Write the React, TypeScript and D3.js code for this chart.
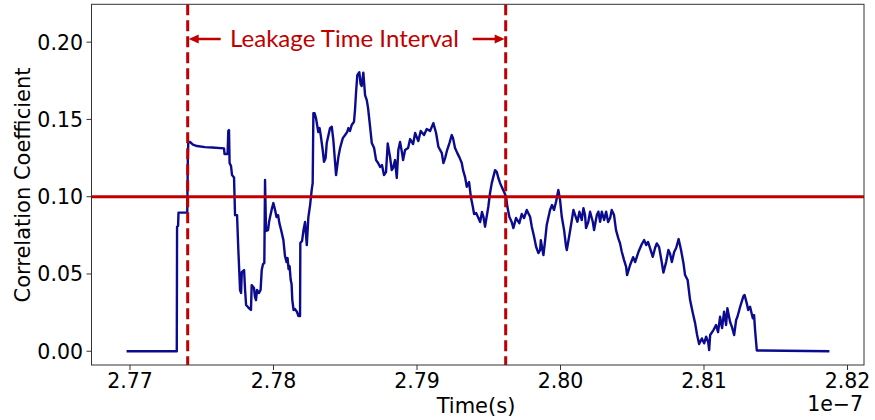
import React from "react";
import * as d3 from "d3";

// Time in units of 1e-7 s
const time = [
  2.76976, 2.77326, 2.77328, 2.77335, 2.77338, 2.77399, 2.77403, 2.77406, 2.77418, 2.77439,
  2.77467, 2.77523, 2.77572, 2.77655, 2.77659, 2.7768, 2.77685, 2.7769, 2.77694, 2.77704,
  2.77711, 2.77725, 2.77732, 2.77746, 2.77755, 2.77767, 2.77774, 2.77779, 2.77795, 2.77802,
  2.77809, 2.77822, 2.77836, 2.77843, 2.77848, 2.77864, 2.77871, 2.77878, 2.77885, 2.77899,
  2.7791, 2.77918, 2.77927, 2.77936, 2.77941, 2.77948, 2.77962, 2.77969, 2.77976, 2.7799,
  2.77999, 2.78011, 2.78021, 2.78032, 2.78041, 2.78053, 2.78069, 2.7808, 2.78091, 2.78098,
  2.78105, 2.78112, 2.7812, 2.78126, 2.78131, 2.7814, 2.7815, 2.78164, 2.78174, 2.78185,
  2.78187, 2.78199, 2.78209, 2.7822, 2.78232, 2.78243, 2.78255, 2.78266, 2.78273, 2.78278,
  2.78286, 2.78296, 2.78312, 2.78321, 2.78329, 2.78343, 2.78352, 2.78363, 2.78371, 2.78394,
  2.78406, 2.78417, 2.78436, 2.78452, 2.78464, 2.78483, 2.78499, 2.78513, 2.78522, 2.78533,
  2.78545, 2.78561, 2.78568, 2.78575, 2.78584, 2.78598, 2.78607, 2.78614, 2.78626, 2.78638,
  2.7865, 2.78659, 2.78673, 2.78685, 2.78701, 2.78715, 2.78729, 2.78743, 2.78756, 2.7877,
  2.78784, 2.78796, 2.78812, 2.78824, 2.78833, 2.78847, 2.78859, 2.7887, 2.78882, 2.78896,
  2.78903, 2.78917, 2.78938, 2.78952, 2.78973, 2.78987, 2.79009, 2.79026, 2.79049, 2.79068,
  2.79091, 2.79114, 2.79133, 2.79149, 2.79173, 2.79184, 2.79196, 2.7921, 2.79226, 2.79242,
  2.79251, 2.79265, 2.79281, 2.79295, 2.79312, 2.79321, 2.79335, 2.79347, 2.79363, 2.79375,
  2.79389, 2.79398, 2.79412, 2.79428, 2.7944, 2.79453, 2.79463, 2.79474, 2.79497, 2.79509,
  2.79521, 2.79544, 2.79556, 2.79567, 2.79579, 2.79591, 2.79607, 2.79621, 2.7963, 2.79644,
  2.7966, 2.79672, 2.7969, 2.79713, 2.7973, 2.79746, 2.79765, 2.79788, 2.798, 2.79816,
  2.7983, 2.79846, 2.79858, 2.79863, 2.79872, 2.79881, 2.79893, 2.79904, 2.79927, 2.79941,
  2.79955, 2.79969, 2.79985, 2.79997, 2.80009, 2.80025, 2.80039, 2.80044, 2.80062, 2.80079,
  2.8009, 2.80102, 2.80118, 2.80132, 2.80148, 2.8016, 2.80171, 2.80178, 2.80194, 2.80206,
  2.80225, 2.80234, 2.80253, 2.80264, 2.80276, 2.80288, 2.80304, 2.80318, 2.80332, 2.80346,
  2.80357, 2.80373, 2.80387, 2.80403, 2.80415, 2.80427, 2.80443, 2.80457, 2.80464, 2.80485,
  2.80506, 2.8052, 2.80543, 2.80567, 2.80583, 2.80597, 2.8061, 2.80624, 2.80643, 2.80659,
  2.80671, 2.80687, 2.80706, 2.80717, 2.80736, 2.80752, 2.80764, 2.80776, 2.80792, 2.80806,
  2.80823, 2.8084, 2.80857, 2.80868, 2.80886, 2.80903, 2.80922, 2.80938, 2.80952, 2.80966,
  2.80985, 2.81001, 2.81015, 2.81029, 2.81036, 2.81043, 2.81066, 2.81084, 2.81098, 2.81112,
  2.81126, 2.8114, 2.81154, 2.81163, 2.81182, 2.81194, 2.8121, 2.81224, 2.81233, 2.81252,
  2.81275, 2.81283, 2.81298, 2.81308, 2.81321, 2.8134, 2.81349, 2.81356, 2.81368, 2.81874,
];

const corr = [
  0, 0, 0.0806, 0.081, 0.0897, 0.0897, 0.1237, 0.1355, 0.1354, 0.1337,
  0.1328, 0.1321, 0.1318, 0.1313, 0.1276, 0.1276, 0.1425, 0.1431, 0.1218, 0.1198,
  0.114, 0.1124, 0.0881, 0.0881, 0.0655, 0.0396, 0.0377, 0.0512, 0.0525, 0.0396,
  0.0299, 0.0286, 0.0273, 0.0267, 0.0428, 0.0409, 0.0351, 0.0331, 0.0396, 0.0377,
  0.0396, 0.0525, 0.0564, 0.0571, 0.1108, 0.0778, 0.0784, 0.0836, 0.0868, 0.0927,
  0.0959, 0.0914, 0.0868, 0.0881, 0.0829, 0.0784, 0.0719, 0.0616, 0.0577, 0.0603,
  0.0532, 0.0551, 0.0461, 0.0435, 0.0331, 0.0267, 0.0273, 0.0254, 0.0228, 0.0228,
  0.07, 0.0713, 0.0784, 0.0836, 0.0687, 0.0868, 0.0946, 0.1043, 0.1088, 0.1541,
  0.1541, 0.1509, 0.1418, 0.1444, 0.1399, 0.1302, 0.1226, 0.125, 0.1347, 0.1444,
  0.1453, 0.1366, 0.114, 0.1256, 0.1315, 0.1379, 0.1399, 0.1418, 0.1444, 0.1425,
  0.1464, 0.1485, 0.1561, 0.1671, 0.1787, 0.1806, 0.1729, 0.1716, 0.1803, 0.1658,
  0.1625, 0.1574, 0.1453, 0.1347, 0.1315, 0.1237, 0.1218, 0.1192, 0.1205, 0.114,
  0.1159, 0.1344, 0.1258, 0.1172, 0.1185, 0.1237, 0.1121, 0.1302, 0.1354, 0.1282,
  0.1237, 0.1302, 0.1315, 0.1373, 0.1341, 0.1412, 0.136, 0.1425, 0.1399, 0.1438,
  0.1425, 0.1476, 0.1412, 0.1323, 0.1282, 0.1218, 0.125, 0.1302, 0.1347, 0.1399,
  0.1379, 0.1315, 0.1282, 0.1256, 0.1218, 0.1172, 0.1127, 0.1064, 0.1095, 0.1,
  0.0935, 0.0888, 0.0894, 0.0862, 0.0836, 0.0901, 0.087, 0.0806, 0.0935, 0.1024,
  0.1088, 0.1172, 0.1159, 0.1121, 0.1088, 0.1062, 0.103, 0.0998, 0.0933, 0.0868,
  0.0836, 0.0797, 0.0862, 0.0829, 0.0888, 0.0862, 0.0914, 0.087, 0.0806, 0.0741,
  0.0676, 0.0635, 0.0655, 0.0719, 0.0668, 0.0622, 0.0719, 0.0817, 0.0914, 0.0946,
  0.0914, 0.0967, 0.1043, 0.0978, 0.087, 0.0784, 0.0676, 0.0655, 0.0752, 0.0849,
  0.0914, 0.0881, 0.0838, 0.0903, 0.0849, 0.0925, 0.0881, 0.0797, 0.0838, 0.0903,
  0.0838, 0.0784, 0.0881, 0.0903, 0.0838, 0.0903, 0.0849, 0.0903, 0.0836, 0.0862,
  0.0914, 0.0881, 0.0784, 0.073, 0.0698, 0.0644, 0.059, 0.0547, 0.0493, 0.0558,
  0.0609, 0.0577, 0.0642, 0.0694, 0.0719, 0.0687, 0.0707, 0.0668, 0.0611, 0.0668,
  0.0698, 0.0674, 0.0574, 0.0509, 0.0577, 0.0655, 0.0629, 0.0577, 0.0642, 0.0668,
  0.0726, 0.0655, 0.0569, 0.0493, 0.0461, 0.0331, 0.0247, 0.0182, 0.0105, 0.0047,
  0.0083, 0.0051, 0.0094, 0.006, 0.0008, 0.0105, 0.0137, 0.017, 0.0124, 0.0223,
  0.015, 0.0256, 0.017, 0.0278, 0.0189, 0.0159, 0.0105, 0.0202, 0.0223, 0.0288,
  0.0357, 0.0364, 0.031, 0.0267, 0.0288, 0.0213, 0.0234, 0.0137, 0.0005, 0,
];

const xTicks = [2.77, 2.78, 2.79, 2.8, 2.81, 2.82];
const yTicks = [0, 0.05, 0.1, 0.15, 0.2];
const threshold = 0.1;
const leakageStart = 2.77402;
const leakageEnd = 2.79618;
const xDomain = [2.767317, 2.82115];
const yDomain = [-0.0089, 0.2245];
const annotationText = "Leakage Time Interval";
const xLabel = "Time(s)";
const yLabel = "Correlation Coefficient";
const offsetText = "1e\u22127";

const W = 875;
const H = 420;
const L = 91.5;
const R = 864;
const T = 4.3;
const B = 365;

export default function App() {
  const x = d3.scaleLinear().domain(xDomain).range([L, R]);
  const y = d3.scaleLinear().domain(yDomain).range([B, T]);
  const pts = time.map((t, i) => [t, corr[i]] as [number, number]);
  const line = d3
    .line<[number, number]>()
    .x((d) => x(d[0]))
    .y((d) => y(d[1]));
  const red = "#c00000";
  const fmt = d3.format(".2f");
  const ax1 = x(leakageStart);
  const ax2 = x(leakageEnd);
  const ay = 39;
  const tickFont = "DejaVu Sans, sans-serif";
  return (
    <svg
      width={W}
      height={H}
      style={{ position: "absolute", left: 0, top: 0, background: "#fff" }}
    >
      <defs>
        <clipPath id="plot">
          <rect x={L} y={T} width={R - L} height={B - T} />
        </clipPath>
      </defs>
      <g clipPath="url(#plot)">
        <path
          d={line(pts) || ""}
          fill="none"
          stroke="#0b0b8f"
          strokeWidth={2.4}
          strokeLinejoin="round"
        />
        <line
          x1={L}
          x2={R}
          y1={y(threshold)}
          y2={y(threshold)}
          stroke={red}
          strokeWidth={3}
        />
        {[leakageStart, leakageEnd].map((t, i) => (
          <line
            key={i}
            x1={x(t)}
            x2={x(t)}
            y1={T}
            y2={B}
            stroke={red}
            strokeWidth={3}
            strokeDasharray="11,5"
          />
        ))}
      </g>
      {/* annotation arrows */}
      <line x1={ax1 + 8} x2={ax1 + 33} y1={ay} y2={ay} stroke={red} strokeWidth={2.5} />
      <path d={`M${ax1 + 1},${ay} L${ax1 + 11},${ay - 4.5} L${ax1 + 11},${ay + 4.5} Z`} fill={red} />
      <line x1={ax2 - 33} x2={ax2 - 8} y1={ay} y2={ay} stroke={red} strokeWidth={2.5} />
      <path d={`M${ax2 - 1},${ay} L${ax2 - 11},${ay - 4.5} L${ax2 - 11},${ay + 4.5} Z`} fill={red} />
      <text
        x={230}
        y={47}
        fill={red}
        fontFamily="Lato, 'Noto Sans', sans-serif"
        fontSize={23}
        textLength={229}
        lengthAdjust="spacingAndGlyphs"
      >
        {annotationText}
      </text>
      {/* spines */}
      <rect x={L} y={T} width={R - L} height={B - T} fill="none" stroke="#333" strokeWidth={1} />
      {/* x ticks */}
      {xTicks.map((t) => (
        <g key={t}>
          <line x1={x(t)} x2={x(t)} y1={B} y2={B + 5} stroke="#333" strokeWidth={1} />
          <text
            x={x(t)}
            y={388}
            textAnchor="middle"
            fontFamily={tickFont}
            fontSize={20.5}
            fill="#000"
          >
            {fmt(t)}
          </text>
        </g>
      ))}
      {yTicks.map((v) => (
        <g key={v}>
          <line x1={L - 5} x2={L} y1={y(v)} y2={y(v)} stroke="#333" strokeWidth={1} />
          <text
            x={83}
            y={y(v) + 7.4}
            textAnchor="end"
            fontFamily={tickFont}
            fontSize={20.5}
            fill="#000"
          >
            {fmt(v)}
          </text>
        </g>
      ))}
      <text
        x={863}
        y={411}
        textAnchor="end"
        fontFamily={tickFont}
        fontSize={20.5}
        fill="#000"
      >
        {offsetText}
      </text>
      <text
        x={476}
        y={413}
        textAnchor="middle"
        fontFamily={tickFont}
        fontSize={21}
        fill="#000"
      >
        {xLabel}
      </text>
      <text
        transform={`translate(30,185) rotate(-90)`}
        textAnchor="middle"
        fontFamily={tickFont}
        fontSize={21}
        fill="#000"
      >
        {yLabel}
      </text>
    </svg>
  );
}
